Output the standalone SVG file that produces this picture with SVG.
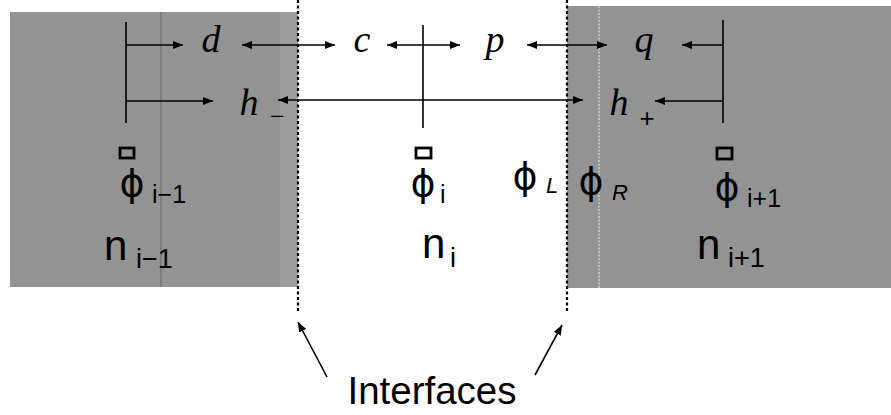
<svg xmlns="http://www.w3.org/2000/svg" width="891" height="415" viewBox="0 0 891 415">
<style>
.it{font-family:"Liberation Serif","Times New Roman",serif;font-style:italic;fill:#000}
.sn{font-family:"Liberation Sans",Arial,sans-serif;fill:#000}
.ph{font-family:"DejaVu Sans",sans-serif;fill:#000}
.ln{stroke:#000;stroke-width:1.6;fill:none}
.ifc{stroke:#000;stroke-width:2.2;stroke-dasharray:3 2.5;fill:none}
.sq{fill:none;stroke:#000;stroke-width:2.8}
</style>
<defs>
<marker id="ah" viewBox="0 0 10 8" refX="10" refY="4" markerWidth="10" markerHeight="8" markerUnits="userSpaceOnUse" orient="auto-start-reverse">
<path d="M0,0 L10,4 L0,8 Z" fill="#000"/>
</marker>
</defs>
<rect width="891" height="415" fill="#fff"/>
<g id="left-region">
<rect x="10" y="12" width="288" height="275" fill="#939393"/>
<rect x="280" y="12" width="18" height="275" fill="#9e9e9e"/>
<line x1="161" y1="12" x2="161" y2="287" stroke="#666" stroke-width="1"/>
</g>
<g id="right-region">
<rect x="567" y="6" width="324" height="282" fill="#939393"/>
<line x1="599" y1="6" x2="599" y2="288" stroke="#dcdcdc" stroke-width="1.2" stroke-dasharray="2 1.5"/>
</g>
<g id="interfaces">
<line class="ifc" x1="298" y1="0" x2="298" y2="313"/>
<line class="ifc" x1="567" y1="0" x2="567" y2="313"/>
</g>
<g id="connectors">
<line class="ln" x1="126" y1="22" x2="126" y2="123"/>
<line class="ln" x1="723" y1="20" x2="723" y2="123"/>
<line class="ln" x1="423" y1="25" x2="423" y2="128"/>
<line class="ln" x1="126" y1="45" x2="183" y2="45" marker-end="url(#ah)"/>
<line class="ln" x1="126" y1="101" x2="213" y2="101" marker-end="url(#ah)"/>
<line class="ln" x1="242" y1="45" x2="335" y2="45" marker-start="url(#ah)" marker-end="url(#ah)"/>
<line class="ln" x1="387" y1="45" x2="460" y2="45" marker-start="url(#ah)" marker-end="url(#ah)"/>
<line class="ln" x1="527" y1="45" x2="607" y2="45" marker-start="url(#ah)" marker-end="url(#ah)"/>
<line class="ln" x1="723" y1="45" x2="682" y2="45" marker-end="url(#ah)"/>
<line class="ln" x1="278" y1="100" x2="583" y2="100" marker-start="url(#ah)" marker-end="url(#ah)"/>
<line class="ln" x1="723" y1="101" x2="655" y2="101" marker-end="url(#ah)"/>
<line class="ln" x1="327" y1="377" x2="298" y2="322" marker-end="url(#ah)"/>
<line class="ln" x1="535" y1="375" x2="562" y2="325" marker-end="url(#ah)"/>
</g>
<g id="distance-labels">
<text class="it" x="211" y="52" font-size="38" text-anchor="middle">d</text>
<text class="it" x="362" y="52" font-size="38" text-anchor="middle">c</text>
<text class="it" x="495" y="52" font-size="38" text-anchor="middle">p</text>
<text class="it" x="644" y="52" font-size="38" text-anchor="middle">q</text>
<text class="it" x="249" y="115" font-size="38" text-anchor="middle">h</text>
<text class="it" x="277" y="125" font-size="26" text-anchor="middle">−</text>
<text class="it" x="619" y="115" font-size="38" text-anchor="middle">h</text>
<text class="sn" x="647" y="127" font-size="26" text-anchor="middle">+</text>
</g>
<g id="cell-im1">
<rect class="sq" x="120" y="148" width="14" height="10"/>
<text class="ph" x="132" y="196" font-size="38" text-anchor="middle">ϕ</text>
<text class="sn" x="152" y="203" font-size="25">i−1</text>
<text class="sn" x="104" y="260" font-size="42">n</text>
<text class="sn" x="136" y="268" font-size="27">i−1</text>
</g>
<g id="cell-i">
<rect class="sq" x="416" y="148" width="15" height="10"/>
<text class="ph" x="423" y="196" font-size="38" text-anchor="middle">ϕ</text>
<text class="sn" x="440" y="203" font-size="25">i</text>
<text class="sn" x="422" y="258" font-size="42">n</text>
<text class="sn" x="450" y="267" font-size="27">i</text>
</g>
<g id="interface-values">
<text class="ph" x="525" y="189" font-size="38" text-anchor="middle">ϕ</text>
<text class="sn" x="546" y="193" font-size="22" font-style="italic">L</text>
<text class="ph" x="591" y="194" font-size="38" text-anchor="middle">ϕ</text>
<text class="sn" x="612" y="200" font-size="22" font-style="italic">R</text>
</g>
<g id="cell-ip1">
<rect class="sq" x="717" y="148" width="15" height="11"/>
<text class="ph" x="727" y="200" font-size="38" text-anchor="middle">ϕ</text>
<text class="sn" x="747" y="207" font-size="25">i+1</text>
<text class="sn" x="697" y="259" font-size="42">n</text>
<text class="sn" x="728" y="267" font-size="27">i+1</text>
</g>
<g id="interfaces-label">
<text class="sn" x="432" y="404" font-size="38.5" text-anchor="middle">Interfaces</text>
</g>
</svg>
